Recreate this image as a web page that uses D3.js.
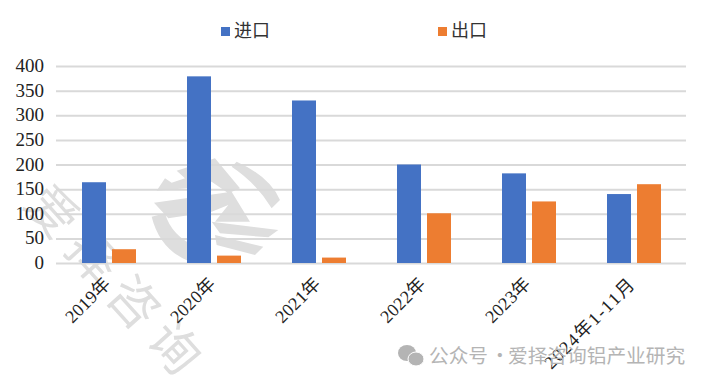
<!DOCTYPE html>
<html>
<head>
<meta charset="utf-8">
<style>
html, body { margin: 0; padding: 0; background: #fff; }
svg { display: block; }
</style>
<script src="https://cdn.jsdelivr.net/npm/d3@7"></script>
</head>
<body>
<svg id="chart" width="709" height="384"></svg>
<script>
const categories = ['2019年', '2020年', '2021年', '2022年', '2023年', '2024年1-11月'];
const seriesNames = ['进口', '出口'];
const importValues = [164, 379, 330, 200, 182, 140];
const exportValues = [28, 15, 11, 101, 125, 160];
const yTicks = [0, 50, 100, 150, 200, 250, 300, 350, 400];
const colors = ['#4472c4', '#ed7d31'];

const serif = '"Liberation Serif", "Noto Sans CJK SC", serif';
const svg = d3.select('#chart');

const x = d3.scaleBand().domain(categories).range([56, 686]);
const y = d3.scaleLinear().domain([0, 400]).range([263, 66]);
const inner = d3.scaleBand().domain(seriesNames).range([0, 54]).paddingInner(0.2);

// watermark sits under everything else
const mark = svg.append('g').attr('fill', '#dedede').attr('font-family', '"Noto Sans CJK SC", sans-serif');
mark.append('text')
    .attr('transform', 'translate(22,205) rotate(48)')
    .attr('font-size', 50)
    .attr('letter-spacing', 11)
    .text('爱择咨询');
mark.append('path')
    .attr('transform', 'translate(140,150) scale(0.3333)')
    .attr('d', 'M50 122 L75 85 L95 98 L135 85 L110 62 L225 25 L300 115 L265 130 L215 95 L140 115 Z'
        + ' M42 158 L275 125 L330 215 L225 215 L265 165 L215 185 L85 205 Z'
        + ' M35 200 L75 190 Q95 260 170 290 L150 335 Q60 300 35 200 Z'
        + ' M290 35 Q390 80 420 150 L395 175 Q350 100 275 50 Z'
        + ' M215 215 L415 240 L385 262 L240 250 Z'
        + ' M225 255 L370 290 L345 315 L230 285 Z');

// gridlines
svg.append('g')
    .attr('transform', 'translate(56,0)')
    .call(d3.axisLeft(y).tickValues(yTicks).tickSize(-630).tickFormat(''))
    .call(g => g.select('.domain').remove())
    .selectAll('line')
    .attr('stroke', '#d9d9d9')
    .attr('stroke-width', 2);

// bars
const groups = svg.append('g').selectAll('g').data(categories).join('g')
    .attr('transform', d => `translate(${x(d) + x.bandwidth() / 2 - 26.5},0)`);

[importValues, exportValues].forEach((values, s) => {
    groups.append('rect')
        .attr('x', inner(seriesNames[s]))
        .attr('y', (d, i) => y(values[i]))
        .attr('width', inner.bandwidth())
        .attr('height', (d, i) => y(0) - y(values[i]))
        .attr('fill', colors[s]);
});

// y labels
svg.append('g').selectAll('text').data(yTicks).join('text')
    .attr('x', 44)
    .attr('y', d => y(d) + 6)
    .attr('text-anchor', 'end')
    .attr('font-family', serif)
    .attr('font-size', 19)
    .attr('fill', '#222')
    .text(d => d);

// x labels, rotated; the long one is set wider like the reference
svg.append('g').selectAll('text').data(categories).join('text')
    .attr('transform', d => `translate(${x(d) + x.bandwidth() / 2 + 3},285) rotate(-45)`)
    .attr('text-anchor', 'end')
    .attr('font-family', serif)
    .attr('font-size', 18)
    .attr('letter-spacing', d => d.length > 5 ? 1.6 : 0.2)
    .attr('fill', '#222')
    .text(d => d);

// legend
const legendX = [221, 438];
seriesNames.forEach((name, i) => {
    svg.append('rect')
        .attr('x', legendX[i]).attr('y', 27).attr('width', 9).attr('height', 9)
        .attr('fill', colors[i]);
    svg.append('text')
        .attr('x', legendX[i] + 13).attr('y', 37)
        .attr('font-family', serif).attr('font-size', 18).attr('fill', '#333')
        .text(name);
});

// wechat credit
const credit = svg.append('g').attr('fill', '#b4b4b4');
credit.append('ellipse').attr('cx', 407).attr('cy', 353).attr('rx', 9).attr('ry', 8);
credit.append('ellipse').attr('cx', 416).attr('cy', 359).attr('rx', 8).attr('ry', 7).attr('stroke', '#fff');
const creditText = credit.append('text')
    .attr('y', 363)
    .attr('font-family', '"Noto Sans CJK SC", sans-serif')
    .attr('font-size', 19.7);
creditText.append('tspan').attr('x', 429).text('公众号');
creditText.append('tspan').attr('x', 490).text('·');
creditText.append('tspan').attr('x', 508).text('爱择咨询铝产业研究');
</script>
</body>
</html>
